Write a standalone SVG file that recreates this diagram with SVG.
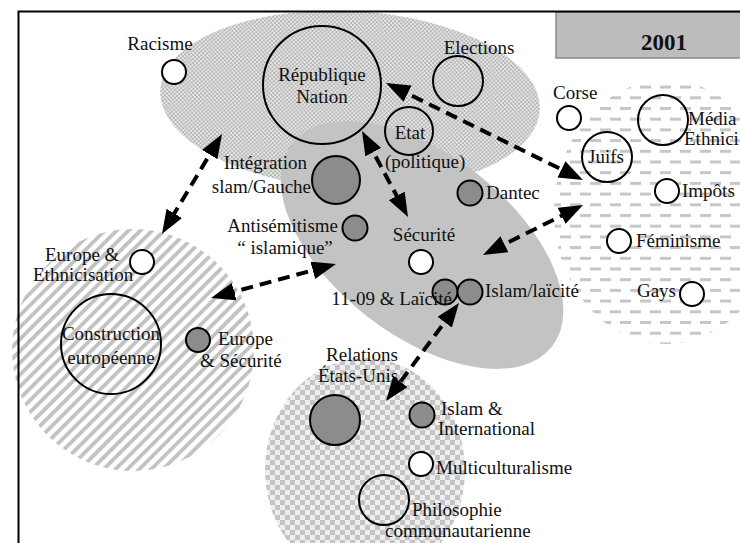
<svg xmlns="http://www.w3.org/2000/svg" width="740" height="543" viewBox="0 0 740 543">
  <defs>
    <!-- fine checker for the "République" zone -->
    <pattern id="fineChecker" width="4" height="4" patternUnits="userSpaceOnUse">
      <rect width="4" height="4" fill="#e6e6e6"/>
      <rect x="0" y="0" width="2" height="2" fill="#b6b6b6"/>
      <rect x="2" y="2" width="2" height="2" fill="#b6b6b6"/>
    </pattern>
    <!-- coarse checker for the international zone -->
    <pattern id="coarseChecker" width="10" height="10" patternUnits="userSpaceOnUse">
      <rect width="10" height="10" fill="#eeeeee"/>
      <rect x="0" y="0" width="5" height="5" fill="#c4c4c4"/>
      <rect x="5" y="5" width="5" height="5" fill="#c4c4c4"/>
    </pattern>
    <!-- diagonal stripes for the European zone -->
    <pattern id="stripes" width="8.4" height="8.4" patternUnits="userSpaceOnUse" patternTransform="rotate(45)">
      <rect width="8.4" height="8.4" fill="#ffffff"/>
      <rect x="0" y="0" width="3.8" height="8.4" fill="#c2c2c2"/>
    </pattern>
    <!-- short horizontal dashes for the society zone -->
    <pattern id="dashes" width="20" height="21.4" patternUnits="userSpaceOnUse">
      <rect width="20" height="21.4" fill="#ffffff"/>
      <rect x="0" y="0" width="11" height="3" fill="#c6c6c6"/>
      <rect x="10" y="10.7" width="10" height="3" fill="#c6c6c6"/>
      <rect x="0" y="10.7" width="1" height="3" fill="#c6c6c6"/>
    </pattern>
    <marker id="head" viewBox="0 0 24 18" markerWidth="24" markerHeight="18" refX="14" refY="9" orient="auto-start-reverse" markerUnits="userSpaceOnUse">
      <path d="M0,0 L24,9 L0,18 Z" fill="#000"/>
    </marker>
    <style>
      text { font-family: "Liberation Serif", "Times New Roman", serif; font-size: 19px; fill: #111; }
      .mid { text-anchor: middle; }
      .end { text-anchor: end; }
      .node { stroke: #000; stroke-width: 2; }
      .open { fill: #ffffff; }
      .hollow { fill: none; }
      .dark { fill: #8c8c8c; }
      .link { fill: none; stroke: #000; stroke-width: 4; stroke-dasharray: 12 7; marker-start: url(#head); marker-end: url(#head); }
    </style>
  </defs>

  <rect width="740" height="543" fill="#ffffff"/>

  <!-- thematic zones -->
  <g id="zones">
    <ellipse cx="350" cy="100" rx="190" ry="89" transform="rotate(3 350 100)" fill="url(#fineChecker)"/>
    <ellipse cx="666" cy="212" rx="112" ry="132" fill="url(#dashes)"/>
    <circle cx="133" cy="350" r="121" fill="url(#stripes)"/>
    <ellipse cx="365" cy="470" rx="100" ry="112" fill="url(#coarseChecker)"/>
    <ellipse cx="422" cy="245" rx="165" ry="90" transform="rotate(38 422 245)" fill="#c3c3c3"/>
  </g>

  <!-- frame and year banner -->
  <g id="frame">
    <rect x="556" y="12" width="190" height="46" fill="#bcbcbc" stroke="#8a8a8a" stroke-width="1.5"/>
    <text x="664" y="50" class="mid" style="font-size:23px;font-weight:bold">2001</text>
    <path d="M18.5,543 L18.5,11.5 L740,11.5" fill="none" stroke="#000" stroke-width="2"/>
  </g>

  <!-- connectors -->
  <g id="connectors">
    <line class="link" x1="216.9" y1="142.6" x2="167.1" y2="225.4"/>
    <line class="link" x1="366.7" y1="139.8" x2="403.3" y2="208.2"/>
    <line class="link" x1="395" y1="87.4" x2="574" y2="175.6"/>
    <line class="link" x1="491.9" y1="250.5" x2="574.1" y2="209.5"/>
    <line class="link" x1="326.3" y1="266.6" x2="220.7" y2="295.4"/>
    <line class="link" x1="453" y1="311" x2="392" y2="393"/>
  </g>

  <!-- nodes -->
  <g id="racisme">
    <circle class="node open" cx="174" cy="72" r="12"/>
    <text x="160" y="50" class="mid">Racisme</text>
  </g>
  <g id="republique-nation">
    <circle class="node hollow" cx="322" cy="85" r="59"/>
    <text x="322" y="81" class="mid">République</text>
    <text x="322" y="103" class="mid">Nation</text>
  </g>
  <g id="elections">
    <circle class="node hollow" cx="458" cy="81" r="25"/>
    <text x="479" y="54" class="mid">Elections</text>
  </g>
  <g id="etat">
    <circle class="node hollow" cx="409" cy="131" r="24"/>
    <text x="410" y="139" class="mid">Etat</text>
    <text x="385" y="168">(politique)</text>
  </g>
  <g id="integration">
    <circle class="node dark" cx="336" cy="180" r="24"/>
    <text x="307" y="169" class="end">Intégration</text>
    <text x="311" y="193" class="end">slam/Gauche</text>
  </g>
  <g id="antisemitisme">
    <circle class="node dark" cx="355" cy="228" r="12.5"/>
    <text x="338" y="232" class="end">Antisémitisme</text>
    <text x="285" y="254" class="mid">“ islamique”</text>
  </g>
  <g id="dantec">
    <circle class="node dark" cx="470" cy="193" r="12.5"/>
    <text x="486" y="199">Dantec</text>
  </g>
  <g id="securite">
    <circle class="node open" cx="421" cy="262" r="12"/>
    <text x="424" y="241" class="mid">Sécurité</text>
  </g>
  <g id="onze-septembre">
    <circle class="node dark" cx="445" cy="292" r="12.5"/>
    <text x="452" y="305" class="end">11-09 &amp; Laïcité</text>
  </g>
  <g id="islam-laicite">
    <circle class="node dark" cx="470" cy="292" r="12.5"/>
    <text x="485" y="297">Islam/laïcité</text>
  </g>
  <g id="europe-ethnicisation">
    <circle class="node open" cx="142" cy="262" r="12"/>
    <text x="45" y="261">Europe &amp;</text>
    <text x="33" y="281">Ethnicisation</text>
  </g>
  <g id="construction-europeenne">
    <circle class="node hollow" cx="111" cy="344" r="50"/>
    <text x="111" y="340" class="mid">Construction</text>
    <text x="111" y="364" class="mid">européenne</text>
  </g>
  <g id="europe-securite">
    <circle class="node dark" cx="198" cy="340" r="12"/>
    <text x="218" y="345">Europe</text>
    <text x="200" y="367">&amp; Sécurité</text>
  </g>
  <g id="corse">
    <circle class="node open" cx="569" cy="118" r="12"/>
    <text x="553" y="99">Corse</text>
  </g>
  <g id="medias">
    <circle class="node hollow" cx="663" cy="120" r="25"/>
    <text x="688" y="125">Média</text>
    <text x="684" y="145">Ethnici</text>
  </g>
  <g id="juifs">
    <circle class="node hollow" cx="607" cy="157" r="25"/>
    <text x="606" y="163" class="mid">Juifs</text>
  </g>
  <g id="impots">
    <circle class="node open" cx="667" cy="191" r="12"/>
    <text x="682" y="197">Impôts</text>
  </g>
  <g id="feminisme">
    <circle class="node open" cx="619" cy="241" r="12"/>
    <text x="636" y="247">Féminisme</text>
  </g>
  <g id="gays">
    <circle class="node open" cx="692" cy="294" r="12"/>
    <text x="676" y="297" class="end">Gays</text>
  </g>
  <g id="relations-etats-unis">
    <circle class="node dark" cx="335" cy="420" r="25"/>
    <text x="362" y="361" class="mid">Relations</text>
    <text x="358" y="382" class="mid">États-Unis</text>
  </g>
  <g id="islam-international">
    <circle class="node dark" cx="422" cy="415" r="12.5"/>
    <text x="441" y="415">Islam &amp;</text>
    <text x="438" y="435">International</text>
  </g>
  <g id="multiculturalisme">
    <circle class="node open" cx="421" cy="464" r="12"/>
    <text x="436" y="474">Multiculturalisme</text>
  </g>
  <g id="philosophie-communautarienne">
    <circle class="node hollow" cx="384" cy="500" r="25"/>
    <text x="412" y="516">Philosophie</text>
    <text x="385" y="537">communautarienne</text>
  </g>
</svg>
